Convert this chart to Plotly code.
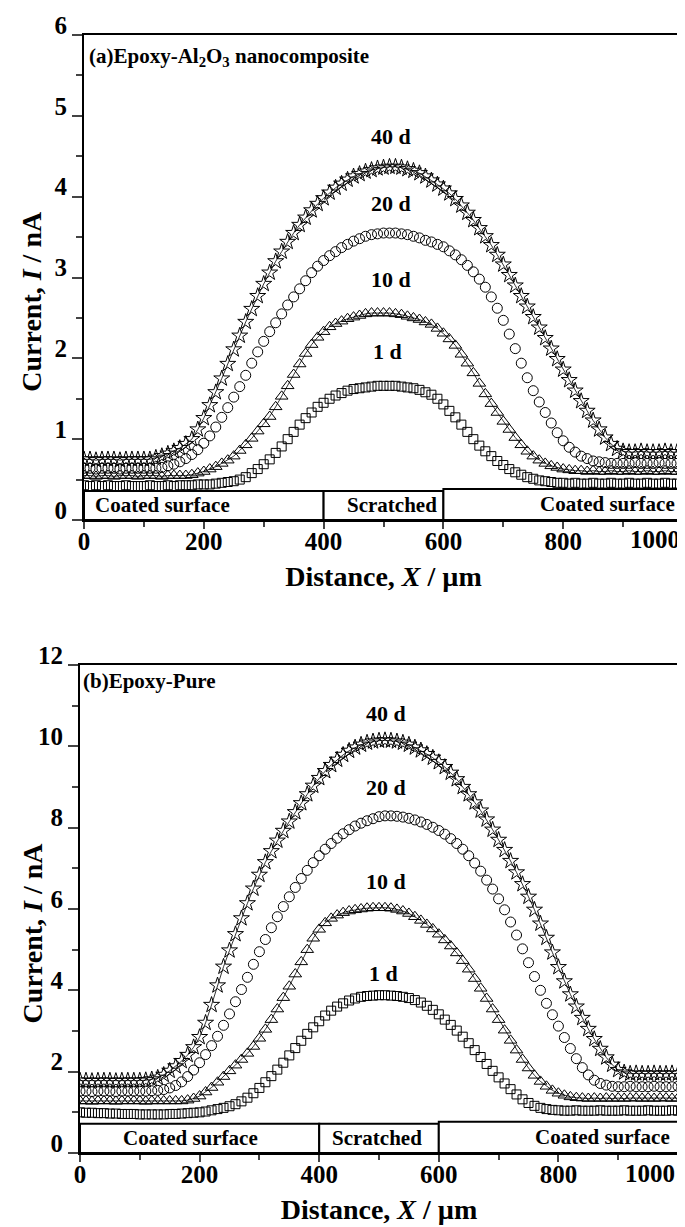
import plotly.graph_objects as go

# ---------------- data ----------------
distance = list(range(0, 1001, 10))

# Panel (a) Epoxy-Al2O3 nanocomposite
a_1d = [0.43,0.42,0.43,0.42,0.43,0.42,0.42,0.43,0.42,0.42,0.42,0.43,0.42,0.42,0.43,0.42,0.43,0.43,0.43,0.44,
        0.44,0.44,0.45,0.46,0.47,0.48,0.50,0.53,0.58,0.63,
        0.69,0.75,0.83,0.91,1.00,1.09,1.18,1.26,1.33,1.40,
        1.45,1.50,1.54,1.57,1.60,1.62,1.63,1.64,1.65,1.66,
        1.66,1.66,1.66,1.65,1.64,1.63,1.61,1.58,1.55,1.50,
        1.43,1.35,1.27,1.18,1.09,1.00,0.92,0.85,0.79,0.73,
        0.68,0.63,0.59,0.56,0.53,0.51,0.49,0.48,0.47,0.46,
        0.46,0.45,0.46,0.45,0.45,0.46,0.45,0.45,0.46,0.45,
        0.45,0.46,0.45,0.45,0.46,0.45,0.45,0.46,0.45,0.45,0.46]
a_10d = [0.55,0.55,0.54,0.55,0.55,0.54,0.55,0.55,0.55,0.54,0.55,0.55,0.55,0.54,0.55,0.55,0.55,0.55,0.56,0.58,
         0.60,0.63,0.66,0.70,0.74,0.79,0.86,0.93,1.01,1.10,
         1.19,1.28,1.40,1.53,1.66,1.80,1.93,2.06,2.17,2.26,
         2.33,2.39,2.43,2.46,2.49,2.51,2.53,2.55,2.56,2.56,
         2.56,2.56,2.55,2.54,2.52,2.50,2.48,2.45,2.42,2.37,
         2.31,2.24,2.16,2.05,1.94,1.82,1.69,1.56,1.44,1.33,
         1.22,1.12,1.02,0.93,0.85,0.79,0.74,0.70,0.67,0.65,
         0.63,0.62,0.61,0.61,0.60,0.61,0.60,0.60,0.61,0.60,
         0.60,0.61,0.60,0.60,0.61,0.60,0.60,0.61,0.60,0.60,0.61]
a_20d = [0.64,0.64,0.63,0.64,0.64,0.64,0.63,0.64,0.64,0.64,0.64,0.64,0.64,0.65,0.67,0.69,0.72,0.76,0.81,0.87,
         0.95,1.04,1.15,1.27,1.39,1.52,1.65,1.79,1.94,2.08,
         2.21,2.33,2.44,2.55,2.66,2.76,2.86,2.96,3.06,3.14,
         3.21,3.27,3.32,3.37,3.41,3.45,3.48,3.51,3.53,3.54,
         3.55,3.55,3.55,3.54,3.53,3.51,3.49,3.46,3.44,3.41,
         3.38,3.33,3.28,3.22,3.15,3.07,2.98,2.88,2.76,2.62,
         2.47,2.30,2.12,1.94,1.76,1.60,1.46,1.33,1.20,1.08,
         0.98,0.90,0.84,0.79,0.76,0.73,0.72,0.71,0.70,0.70,
         0.70,0.70,0.71,0.70,0.70,0.70,0.71,0.70,0.70,0.70,0.71]
a_40d = [0.75,0.75,0.74,0.75,0.75,0.75,0.74,0.75,0.75,0.75,0.75,0.75,0.77,0.79,0.82,0.85,0.89,0.94,1.00,1.12,
         1.26,1.42,1.58,1.75,1.93,2.11,2.28,2.45,2.61,2.77,
         2.92,3.06,3.20,3.32,3.44,3.55,3.65,3.74,3.83,3.91,
         3.98,4.05,4.11,4.16,4.21,4.25,4.28,4.31,4.33,4.35,
         4.36,4.37,4.37,4.36,4.34,4.32,4.29,4.25,4.20,4.15,
         4.10,4.04,3.97,3.89,3.80,3.71,3.61,3.51,3.40,3.28,
         3.16,3.03,2.90,2.77,2.64,2.51,2.38,2.25,2.12,1.99,
         1.86,1.73,1.60,1.47,1.35,1.23,1.12,1.02,0.94,0.88,
         0.85,0.84,0.84,0.85,0.84,0.84,0.84,0.85,0.84,0.84,0.84]

# Panel (b) Epoxy-Pure
b_1d = [1.00,0.99,0.99,0.98,0.98,0.97,0.97,0.96,0.96,0.96,0.95,0.95,0.95,0.95,0.95,0.96,0.96,0.97,0.98,0.99,
        1.00,1.02,1.05,1.08,1.11,1.15,1.20,1.27,1.36,1.47,
        1.60,1.74,1.89,2.05,2.22,2.40,2.58,2.76,2.93,3.09,
        3.24,3.38,3.50,3.60,3.68,3.75,3.80,3.84,3.86,3.87,
        3.88,3.88,3.87,3.86,3.84,3.81,3.76,3.70,3.62,3.52,
        3.41,3.28,3.15,3.01,2.86,2.70,2.53,2.36,2.19,2.02,
        1.86,1.71,1.57,1.44,1.32,1.23,1.16,1.11,1.08,1.06,
        1.05,1.04,1.04,1.05,1.04,1.04,1.04,1.05,1.04,1.04,
        1.04,1.05,1.04,1.04,1.04,1.05,1.04,1.04,1.04,1.05,1.04]
b_10d = [1.28,1.28,1.27,1.28,1.28,1.28,1.27,1.28,1.28,1.28,1.28,1.27,1.28,1.28,1.28,1.28,1.28,1.28,1.30,1.34,
         1.40,1.50,1.61,1.74,1.88,2.02,2.16,2.30,2.45,2.62,
         2.82,3.04,3.28,3.54,3.82,4.10,4.40,4.70,5.00,5.28,
         5.50,5.66,5.77,5.85,5.91,5.95,5.98,6.00,6.02,6.03,
         6.03,6.03,6.02,5.99,5.95,5.89,5.81,5.72,5.62,5.51,
         5.38,5.24,5.09,4.92,4.73,4.52,4.29,4.05,3.80,3.54,
         3.28,3.02,2.77,2.53,2.30,2.09,1.91,1.76,1.64,1.54,
         1.47,1.42,1.38,1.36,1.35,1.34,1.35,1.34,1.35,1.34,
         1.35,1.34,1.35,1.35,1.34,1.35,1.34,1.35,1.35,1.34,1.35]
b_20d = [1.52,1.52,1.51,1.52,1.52,1.52,1.51,1.52,1.52,1.52,1.52,1.52,1.53,1.54,1.56,1.60,1.66,1.75,1.88,2.04,
         2.22,2.42,2.64,2.87,3.14,3.42,3.72,4.02,4.32,4.64,
         4.95,5.25,5.54,5.81,6.06,6.30,6.53,6.75,6.95,7.14,
         7.31,7.47,7.61,7.74,7.85,7.95,8.04,8.11,8.17,8.22,
         8.27,8.29,8.29,8.28,8.26,8.23,8.19,8.14,8.08,8.01,
         7.93,7.84,7.73,7.61,7.47,7.31,7.13,6.93,6.71,6.49,
         6.25,5.98,5.68,5.36,5.02,4.68,4.34,4.00,3.68,3.40,
         3.12,2.84,2.57,2.32,2.10,1.92,1.79,1.71,1.67,1.64,
         1.63,1.63,1.64,1.63,1.63,1.63,1.64,1.63,1.63,1.63,1.64]
b_40d = [1.78,1.78,1.77,1.78,1.78,1.78,1.77,1.78,1.78,1.78,1.78,1.79,1.81,1.85,1.92,2.02,2.13,2.26,2.41,2.60,
         2.85,3.20,3.64,4.12,4.58,4.98,5.38,5.77,6.14,6.50,
         6.84,7.15,7.42,7.68,7.92,8.15,8.38,8.60,8.82,9.03,
         9.22,9.39,9.54,9.67,9.79,9.89,9.97,10.04,10.09,10.12,
         10.14,10.15,10.14,10.12,10.09,10.04,9.97,9.90,9.81,9.72,
         9.61,9.49,9.35,9.19,9.00,8.82,8.62,8.42,8.20,7.95,
         7.70,7.45,7.18,6.90,6.61,6.30,5.98,5.64,5.29,4.93,
         4.57,4.22,3.90,3.60,3.32,3.05,2.80,2.56,2.35,2.17,
         2.04,1.98,1.95,1.96,1.95,1.95,1.96,1.95,1.95,1.96,1.95]

day_labels = ["1 d", "10 d", "20 d", "40 d"]
symbols = ["square-open", "triangle-up-open", "circle-open", "star-open"]
sizes = [9, 11, 10, 12]
lines_on = [False, True, False, True]

x_tickvals = [0, 200, 400, 600, 800, 1000]
x_ticktext = ["0", "200", "400", "600", "800", ""]
last_x_label = "1000"   # drawn right-aligned at the axis end, as in the reference

# label positions (data units)
label_x_a = [507, 512, 512, 512]
label_y_a = [2.09, 2.97, 3.92, 4.75]
label_x_b = [507, 512, 512, 512]
label_y_b = [4.42, 6.68, 9.0, 10.8]

region_names = ["Coated surface", "Scratched", "Coated surface"]
region_edges = [0, 400, 600, 1000]

FONT = "Liberation Serif"
TICK_SIZE = 25
TITLE_SIZE = 28

fig = go.Figure()

panels = [
    ("x", "y", [a_1d, a_10d, a_20d, a_40d], label_x_a, label_y_a),
    ("x2", "y2", [b_1d, b_10d, b_20d, b_40d], label_x_b, label_y_b),
]

for xa, ya, series, lx, ly in panels:
    for vals, sym, sz, ln in zip(series, symbols, sizes, lines_on):
        fig.add_trace(go.Scatter(
            x=distance, y=vals, xaxis=xa, yaxis=ya,
            mode="lines+markers" if ln else "markers",
            line=dict(color="black", width=0.8),
            marker=dict(symbol=sym, size=sz, color="black", line=dict(width=1, color="black")),
            showlegend=False, hoverinfo="skip"))
    for txt, xv, yv in zip(day_labels, lx, ly):
        fig.add_annotation(x=xv, y=yv, xref=xa, yref=ya, text="<b>%s</b>" % txt,
                           showarrow=False, font=dict(family=FONT, size=22, color="black"))
    # y-axis title
    fig.add_annotation(x=24 / 685, y=0.45, xref="paper", yref=ya + " domain", textangle=-90,
                       xanchor="center", yanchor="middle",
                       text="<b>Current, <i>I</i> / nA</b>", showarrow=False,
                       font=dict(family=FONT, size=TITLE_SIZE, color="black"))
    # last x tick label
    fig.add_annotation(x=1000, y=0, xref=xa, yref=ya + " domain", xanchor="right", yanchor="middle",
                       yshift=-20, xshift=-1, text="<b>%s</b>" % last_x_label, showarrow=False,
                       font=dict(family=FONT, size=TICK_SIZE, color="black"))

# region boxes
box_top = {"y": [0.36, 0.36, 0.385], "y2": [0.72, 0.72, 0.77]}
for xa, ya in [("x", "y"), ("x2", "y2")]:
    for i in range(3):
        fig.add_shape(type="rect", xref=xa, yref=ya,
                      x0=region_edges[i], x1=region_edges[i + 1], y0=0, y1=box_top[ya][i],
                      line=dict(color="black", width=2), fillcolor="white", layer="above")

# region texts
txt_a = [(15, "left"), (592, "right"), (990, "right")]
txt_b = [(184, "center"), (497, "center"), (990, "right")]
for xa, ya, spec in [("x", "y", txt_a), ("x2", "y2", txt_b)]:
    for i, (xv, al) in enumerate(spec):
        fig.add_annotation(x=xv, y=box_top[ya][i] / 2, xref=xa, yref=ya,
                           text="<b>%s</b>" % region_names[i], showarrow=False,
                           xanchor=al, font=dict(family=FONT, size=21, color="black"))

# panel titles
fig.add_annotation(x=0.005, y=0.985, xref="x domain", yref="y domain", xanchor="left", yanchor="top",
                   text="<b>(a)Epoxy-Al<sub>2</sub>O<sub>3</sub> nanocomposite</b>", showarrow=False,
                   font=dict(family=FONT, size=21, color="black"))
fig.add_annotation(x=0.002, y=0.995, xref="x2 domain", yref="y2 domain", xanchor="left", yanchor="top",
                   text="<b>(b)Epoxy-Pure</b>", showarrow=False,
                   font=dict(family=FONT, size=21, color="black"))

W, H = 685, 1227
common_x = dict(range=[0, 1000], tickvals=x_tickvals, ticktext=x_ticktext,
                ticks="outside", ticklen=7, tickwidth=2, showline=True, linewidth=2, linecolor="black",
                mirror=True, showgrid=False, zeroline=False, automargin=False, ticklabelstandoff=-9,
                minor=dict(ticks="outside", ticklen=5, tickwidth=2, dtick=100, tick0=0, showgrid=False),
                tickfont=dict(family=FONT, size=TICK_SIZE, color="black", weight="bold"),
                title=dict(text="<b>Distance, <i>X</i> / µm</b>", standoff=12,
                           font=dict(family=FONT, size=TITLE_SIZE, color="black")))
common_y = dict(ticks="outside", ticklen=10, tickwidth=2, showline=True, linewidth=2, linecolor="black",
                mirror=True, showgrid=False, zeroline=False, automargin=False, ticklabelshift=-10,
                tickfont=dict(family=FONT, size=TICK_SIZE, color="black", weight="bold"))

fig.update_layout(
    width=W, height=H, plot_bgcolor="white", paper_bgcolor="white",
    margin=dict(l=0, r=0, t=0, b=0),
    xaxis=dict(common_x, domain=[76 / W, 675 / W], anchor="y"),
    yaxis=dict(common_y, domain=[1 - 512 / H, 1 - 27 / H], anchor="x", range=[0, 6],
               tickvals=[0, 1, 2, 3, 4, 5, 6],
               minor=dict(ticks="outside", ticklen=6, tickwidth=2, dtick=0.5, tick0=0, showgrid=False)),
    xaxis2=dict(common_x, domain=[72 / W, 670 / W], anchor="y2"),
    yaxis2=dict(common_y, domain=[1 - 1145 / H, 1 - 657 / H], anchor="x2", range=[0, 12],
                tickvals=[0, 2, 4, 6, 8, 10, 12],
                minor=dict(ticks="outside", ticklen=6, tickwidth=2, dtick=1, tick0=0, showgrid=False)),
)

fig.write_html("out.html")
